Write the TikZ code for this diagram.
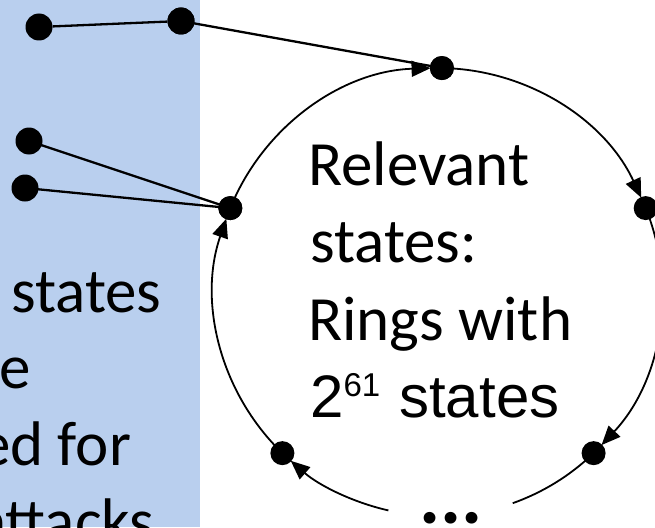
\documentclass[tikz,border=0pt]{standalone}
\usepackage{fontspec}
\setmainfont{Carlito}
\newfontfamily\arialfont{Liberation Sans}
\usetikzlibrary{arrows.meta,calc}
\definecolor{panelblue}{RGB}{185,207,238}

\begin{document}
\begin{tikzpicture}[x=1pt,y=-1pt,
  bigdot/.style={circle,fill=black,inner sep=0pt,minimum size=27pt},
  ringdot/.style={circle,fill=black,inner sep=0pt,minimum size=24pt},
  link/.style={line width=2.3pt},
  ring/.style={line width=1.8pt},
  ringarrow/.style={ring,-{Triangle[length=19pt,width=16pt]}},
  txt/.style={inner sep=0pt,anchor=base west,font=\fontsize{63}{77}\selectfont}]
\useasboundingbox (0,0) rectangle (655,527);
\clip (0,0) rectangle (655,527);

% shaded panel on the left
\fill[panelblue] (0,0) rectangle (200,527);

% panel text (runs off the left edge)
\node[txt] (side1) at (11,312) {states};
\node[txt] (side2) at (-1,388) {e};
\node[txt] (side3) at (-21,465) {ed for};
\node[txt] (side4) at (-24,542) {attacks};

% ring of states
\coordinate (O) at (438,292);
\def\R{224}
\draw[ringarrow] ($(O)+(202:\R)$) arc[start angle=202,end angle=268.1,radius=\R];
\draw[ringarrow] ($(O)+(271:\R)$) arc[start angle=271,end angle=335.1,radius=\R];
\draw[ringarrow] ($(O)+(338:\R)$) arc[start angle=338,end angle=403.1,radius=\R];
\draw[ring]      ($(O)+(46:\R)$)  arc[start angle=46,end angle=70.5,radius=\R];
\draw[ringarrow] ($(O)+(102.8:\R)$) arc[start angle=102.8,end angle=131.1,radius=\R];
\draw[ringarrow] ($(O)+(134:\R)$) arc[start angle=134,end angle=199.1,radius=\R];

\node[ringdot] (E) at ($(O)+(202:\R)$) {};
\node[ringdot] (F) at ($(O)+(271:\R)$) {};
\node[ringdot] (G) at ($(O)+(338:\R)$) {};
\node[ringdot] (I) at ($(O)+(46:\R)$) {};
\node[ringdot] (H) at ($(O)+(134:\R)$) {};

% states leading into the ring
\node[bigdot] (A) at (39,27) {};
\node[bigdot] (B) at (181,21) {};
\node[bigdot] (C) at (29,141) {};
\node[bigdot] (D) at (25,188) {};
\draw[link] (A) -- (B);
\draw[link] (B.center) -- (F.center);
\draw[link] (C.center) -- (E.center);
\draw[link] (D.center) -- (E.center);
\node[bigdot] at (B) {};
\node[ringdot] at (E) {};
\node[ringdot] at (F) {};

% ring caption
\node[txt] (rel1) at (308,185) {Relevant};
\node[txt] (rel2) at (310,262) {states:};
\node[txt] (rel3) at (308,340) {Rings with};
\node[txt,font=\arialfont\fontsize{60}{72}\selectfont] (rel4) at (310,417)
  {2\raisebox{21pt}{\fontsize{33}{33}\selectfont 61}\hspace{19pt}states};

% gap in the ring
\node[inner sep=0pt,anchor=base,font=\bfseries\fontsize{79}{79}\selectfont] (gap) at (451,523) {...};
\end{tikzpicture}
\end{document}
